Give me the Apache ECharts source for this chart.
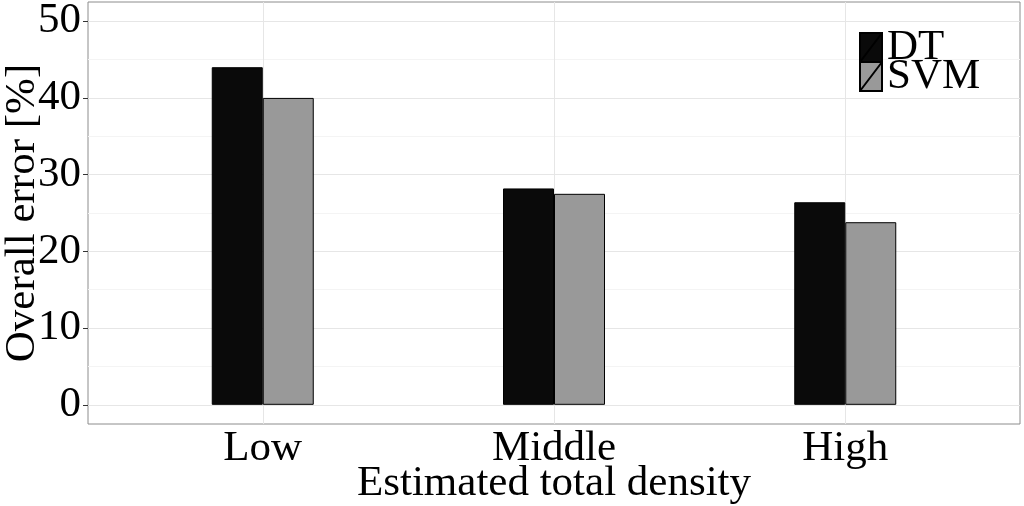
<!DOCTYPE html>
<html>
<head>
<meta charset="utf-8">
<script src="https://cdn.jsdelivr.net/npm/echarts@6/dist/echarts.min.js"></script>
<style>
html,body{margin:0;padding:0;background:#fff;}
#chart{width:1024px;height:506px;}
</style>
</head>
<body>
<div id="chart"></div>
<script>
const categories = ['Low', 'Middle', 'High'];
const seriesNames = ['DT', 'SVM'];
const dtValues = [44.0, 28.2, 26.4];
const svmValues = [40.0, 27.5, 23.8];
const yTickValues = [0, 10, 20, 30, 40, 50];
const yMinorValues = [5, 15, 25, 35, 45];

const FONT = 'Liberation Serif';
const chart = echarts.init(document.getElementById('chart'), null, {renderer: 'canvas'});

const pos = categories.map((c, i) => i + 1);
const legendIcon = 'path://M0,0 L22,0 L22,29 L0,29 Z M0,29 L22,0';
const legendBase = {
  orient: 'vertical',
  left: 859,
  itemWidth: 22, itemHeight: 29, itemGap: 0,
  icon: legendIcon,
  padding: 0,
  selectedMode: false,
  textStyle: {fontFamily: FONT, fontSize: 43, color: '#000'}
};

const option = {
  animation: false,
  backgroundColor: '#fff',
  grid: {left: 88, right: 4, top: 2, bottom: 82, containLabel: false, outerBoundsMode: 'none',
    show: true, borderColor: '#8c8c8c', borderWidth: 1, backgroundColor: '#fff'},
  legend: [
    Object.assign({}, legendBase, {data: [seriesNames[0]], top: 26}),
    Object.assign({}, legendBase, {data: [seriesNames[1]], top: 55})
  ],
  xAxis: {
    type: 'value', min: 0.4, max: 3.6,
    name: 'Estimated total density', nameLocation: 'middle', nameGap: 38, nameMoveOverlap: false,
    nameTextStyle: {fontFamily: FONT, fontSize: 43, color: '#000'},
    axisLine: {show: false},
    axisTick: {show: true, customValues: pos, length: 5, lineStyle: {color: '#333'}},
    axisLabel: {customValues: pos, margin: 3, fontFamily: FONT, fontSize: 43, color: '#000',
      formatter: v => categories[Math.round(v) - 1]},
    splitLine: {show: false}
  },
  yAxis: {
    type: 'value', min: -2.5, max: 52.5,
    name: 'Overall error [%]', nameLocation: 'middle', nameGap: 44, nameMoveOverlap: false,
    nameTextStyle: {fontFamily: FONT, fontSize: 43, color: '#000'},
    axisLine: {show: false},
    axisTick: {show: true, customValues: yTickValues, length: 5, lineStyle: {color: '#333'}},
    axisLabel: {customValues: yTickValues, margin: 7, fontFamily: FONT, fontSize: 43, color: '#000'},
    splitLine: {show: false}
  },
  series: [
    {
      type: 'line', data: [], z: 1, silent: true,
      markLine: {
        z: 1, silent: true, symbol: ['none', 'none'], label: {show: false}, animation: false,
        data: [
          ...yMinorValues.map(v => ({yAxis: v, lineStyle: {color: '#f4f4f4', width: 1, type: 'solid'}})),
          ...yTickValues.map(v => ({yAxis: v, lineStyle: {color: '#e6e6e6', width: 1, type: 'solid'}})),
          ...pos.map(v => ({xAxis: v, lineStyle: {color: '#e6e6e6', width: 1, type: 'solid'}}))
        ]
      }
    },
    {
      name: seriesNames[0], type: 'bar', z: 10, barWidth: 51, barGap: '0%',
      data: dtValues.map((v, i) => [pos[i], v]),
      itemStyle: {color: '#0a0a0a', borderColor: '#000', borderWidth: 1}
    },
    {
      name: seriesNames[1], type: 'bar', z: 10, barWidth: 51, barGap: '0%',
      data: svmValues.map((v, i) => [pos[i], v]),
      itemStyle: {color: '#999999', borderColor: '#000', borderWidth: 1}
    }
  ]
};
chart.setOption(option);
</script>
</body>
</html>
